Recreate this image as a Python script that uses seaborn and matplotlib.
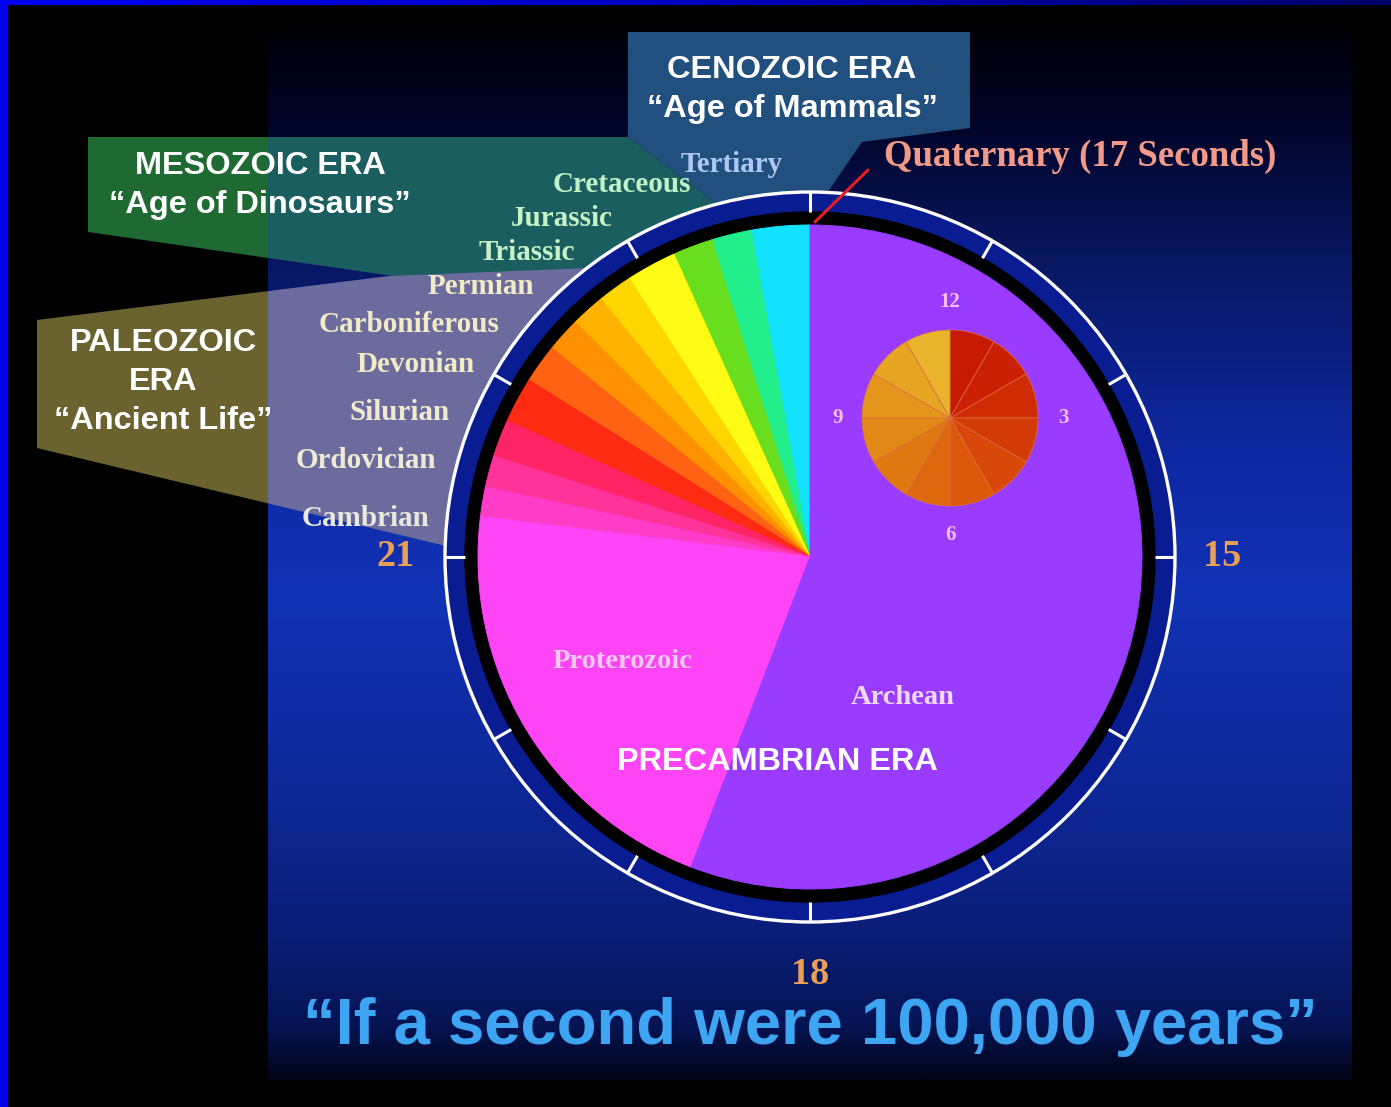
import numpy as np
import matplotlib
matplotlib.use("Agg")
import matplotlib.pyplot as plt
from matplotlib.patches import Circle, Polygon, Rectangle
from matplotlib.colors import LinearSegmentedColormap
import seaborn as sns

sns.set_theme(style="dark", rc={"figure.facecolor": "black", "axes.facecolor": "black"})
plt.rcParams["font.family"] = ["Liberation Sans", "DejaVu Sans"]

W, H = 1391, 1107

# main clock pie: wedge sizes in degrees, counter-clockwise from 12 o'clock
slice_degrees = [10.2, 7.0, 7.0, 8.8, 6.0, 6.0, 6.0, 6.8, 8.0, 6.5, 5.5, 5.2, 76.0, 201.0]
slice_colors = ["#12E2FF", "#22EF8C", "#68DE1E", "#FFFB14", "#FFD600", "#FFB300",
                "#FF9000", "#FF6212", "#FF2A12", "#FF2466", "#FF3399", "#FF3CC8",
                "#FF44F6", "#9A3CFF"]

# small 12-hour clock
hour_values = [1, 1, 1, 1, 1, 1, 1, 1, 1, 1, 1, 1]
hour_colors = ["#C81A02", "#CC2004", "#D02C04", "#D43A06", "#D84808", "#DC580A",
               "#DE680E", "#E07812", "#E28816", "#E4961C", "#E6A624", "#E9B42C"]
hour_labels = ["12", "3", "6", "9"]

clock_labels = ["15", "18", "21"]

period_names = ["Tertiary", "Cretaceous", "Jurassic", "Triassic", "Permian",
                "Carboniferous", "Devonian", "Silurian", "Ordovician", "Cambrian"]
period_x = [732, 622, 562, 527, 481, 409, 416, 400, 366, 366]
period_y = [165, 184, 219, 253, 287, 324, 365, 413, 461, 518]
period_colors = ["#AECAF4", "#BFF2C6", "#C6F2C6", "#C6F2C6", "#F2EBC6",
                 "#F2EBC6", "#F2EBC6", "#F0EAD0", "#EEEAD4", "#E8E8DC"]

CX, CY = 810, 557      # clock centre (image pixels)
R_PIE, R_BLACK, R_RING = 332, 345, 365


def yy(v):
    return H - v


fig = plt.figure(figsize=(W / 100, H / 100), dpi=100)
fig.patch.set_facecolor("black")
ax = fig.add_axes([0, 0, 1, 1])
ax.set_facecolor("black")

# frame strips
ax.add_patch(Rectangle((0, 0), 7, H, color="#0000F2", zorder=1))
top = LinearSegmentedColormap.from_list("top", ["#0000F2", "#0000C0", "#00006A"])
ax.imshow(np.linspace(0, 1, 200)[None, :], cmap=top, aspect="auto",
          extent=(0, W, yy(5), H), zorder=1)

# panel gradient
stops = [(0.0, "#000008"), (0.09, "#02052A"), (0.21, "#08165E"), (0.40, "#0E28A2"),
         (0.54, "#1232B6"), (0.72, "#0E2898"), (0.86, "#0A1E78"), (0.95, "#061454"),
         (1.0, "#01041A")]
panel = LinearSegmentedColormap.from_list("panel", stops)
ax.imshow(np.linspace(0, 1, 400)[:, None], cmap=panel, aspect="auto",
          extent=(268, 1352, yy(1080), yy(30)), zorder=1)


def poly(points, color, z, clip=None):
    p = Polygon([(x, yy(y)) for x, y in points], closed=True, color=color, lw=0, zorder=z)
    ax.add_patch(p)
    if clip is not None:
        r = Rectangle((clip[0], 0), clip[1] - clip[0], H, transform=ax.transData)
        p.set_clip_path(r)


meso = [(88, 137), (628, 137), (743, 224), (700, 280), (560, 300), (88, 232)]
paleo = [(37, 320), (389, 276), (590, 268), (700, 400), (520, 560), (446, 546), (37, 448)]
ceno = [(628, 32), (970, 32), (970, 128), (862, 142), (812, 215), (743, 224), (628, 137)]

poly(meso, "#1E6A32", 2, clip=(0, 268))
poly(meso, "#1A5E60", 2, clip=(268, W))
poly(paleo, "#6A6330", 3, clip=(0, 268))
poly(paleo, "#6B6B9E", 3, clip=(268, W))
poly(ceno, "#214F7E", 2)

# clock rings
ax.add_patch(Circle((CX, yy(CY)), R_RING, color="#0A1C92", zorder=4))
ax.add_patch(Circle((CX, yy(CY)), R_BLACK, color="black", zorder=4.5))
ax.add_patch(Circle((CX, yy(CY)), R_RING, fill=False, ec="white", lw=2.4, zorder=6))
for h in range(12):
    a = np.deg2rad(90 - 30 * h)
    ax.plot([CX + R_BLACK * np.cos(a), CX + R_RING * np.cos(a)],
            [yy(CY) + R_BLACK * np.sin(a), yy(CY) + R_RING * np.sin(a)],
            color="white", lw=2.2, solid_capstyle="butt", zorder=6)

wedges, _ = ax.pie(slice_degrees, colors=slice_colors, startangle=90, counterclock=True,
                   radius=R_PIE, center=(CX, yy(CY)),
                   wedgeprops=dict(linewidth=0.7, zorder=5))
for w in wedges:
    w.set_edgecolor(w.get_facecolor())

ax.pie(hour_values, colors=hour_colors, startangle=90, counterclock=False,
       radius=88, center=(950, yy(418)),
       wedgeprops=dict(linewidth=0.5, edgecolor="#DC7040", zorder=7))

# Quaternary pointer
ax.plot([868, 815], [yy(170), yy(222)], color="#E42020", lw=2.2, zorder=8)

ax.set_xlim(0, W)
ax.set_ylim(0, H)
ax.set_aspect("auto")
ax.axis("off")

serif = ["Liberation Serif", "DejaVu Serif"]
sans = ["Liberation Sans", "DejaVu Sans"]


def txt(x, y, s, size, color, fam=sans):
    ax.text(x, yy(y), s, fontsize=size, color=color, family=fam, weight="bold",
            ha="center", va="center", zorder=10)


for n, x, y, c in zip(period_names, period_x, period_y, period_colors):
    txt(x, y, n, 21, c, serif)

txt(1080, 156, "Quaternary (17 Seconds)", 26.5, "#F29A88", serif)

for lab, (x, y) in zip(clock_labels, [(1222, 557), (810, 975), (396, 557)]):
    txt(x, y, lab, 27.5, "#E8A058", serif)

for lab, (x, y) in zip(hour_labels, [(950, 302), (1063, 418), (950, 535), (838, 418)]):
    txt(x, y, lab, 15, "#F5BDE8", serif)

txt(622, 661, "Proterozoic", 20.5, "#F5C8F5", serif)
txt(903, 698, "Archean", 20.5, "#F0D8F8", serif)

era = 23.4
txt(792, 70, "CENOZOIC ERA", era, "white")
txt(792, 109, "\u201cAge of Mammals\u201d", era, "white")
txt(260, 166, "MESOZOIC ERA", era, "white")
txt(260, 205, "\u201cAge of Dinosaurs\u201d", era, "white")
txt(163, 343, "PALEOZOIC", era, "white")
txt(163, 382, "ERA", era, "white")
txt(163, 421, "\u201cAncient Life\u201d", era, "white")
txt(777, 762, "PRECAMBRIAN ERA", era, "white")

txt(810, 1027, "\u201cIf a second were 100,000 years\u201d", 47, "#3DA5F2")

fig.savefig("out.png", dpi=100, facecolor="black")
